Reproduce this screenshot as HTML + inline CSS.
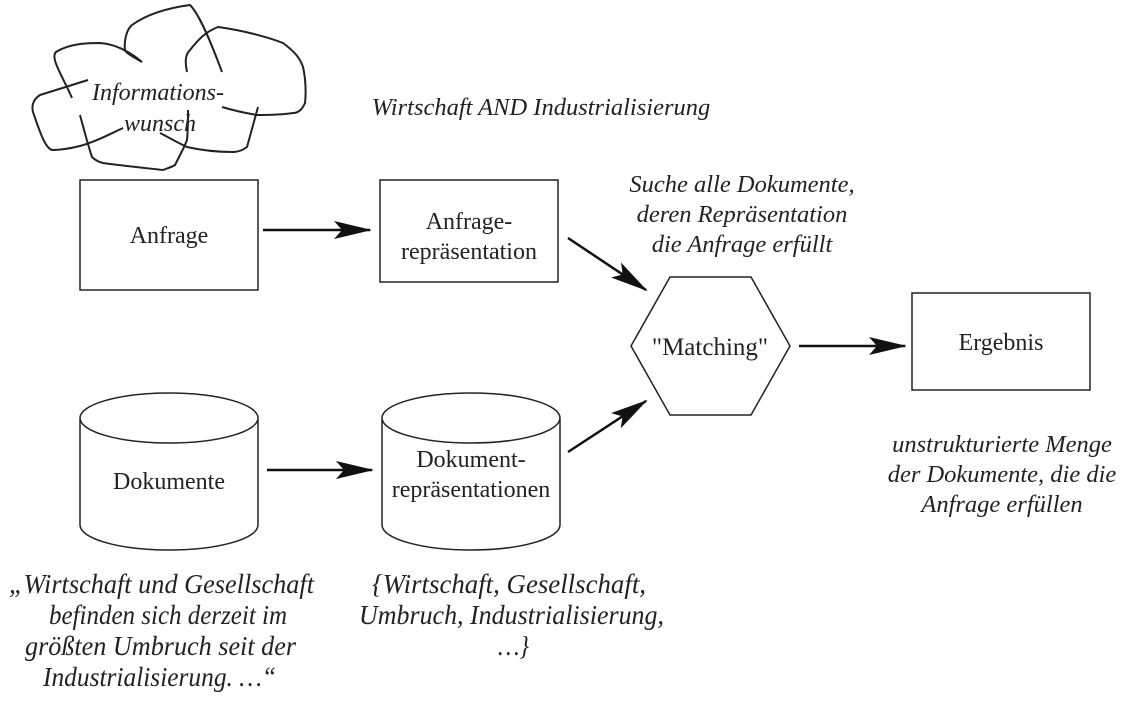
<!DOCTYPE html>
<html><head><meta charset="utf-8"><style>
body{margin:0;background:#fff}
svg{display:block}
text{font-family:"Liberation Serif",serif;fill:#222}
.i{font-style:italic}
</style></head><body>
<svg width="1131" height="711" viewBox="0 0 1131 711">
<defs><marker id="a" markerWidth="40" markerHeight="20" refX="36" refY="10" orient="auto" markerUnits="userSpaceOnUse"><path d="M0,1 L38,10 L0,19 L8,10 Z" fill="#111"/></marker></defs>
<g fill="none" stroke="#222" stroke-width="2" stroke-linejoin="round">
<path d="M72,98 C62,75 50,58 56,52 C70,43 90,43 100,43 C115,44 130,52 142,62"/>
<path d="M88,80 L40,95 C32,100 31,108 34,115 C40,132 45,148 52,150 C62,150 72,148 80,146 C95,142 110,134 123,128"/>
<path d="M142,62 C130,55 125,52 125,50 C124,42 126,30 132,25 C150,12 175,7 190,5 C200,15 212,45 222,72"/>
<path d="M187,72 C185,62 185,55 190,50 C198,40 205,32 218,27 C240,30 265,36 283,43 C295,52 300,58 303,67 C306,80 306,95 305,103 C302,110 298,113 293,113 C280,115 268,115 257,115 C245,113 232,110 222,107"/>
<path d="M258,107 L247,147 C243,150 238,152 233,152 C215,152 200,150 187,147 C178,143 168,137 160,133"/>
<path d="M80,115 C84,130 88,145 92,157 C95,160 99,162 103,163 C125,166 145,168 163,170 C168,168 172,167 175,165 C180,155 184,148 187,140 C188,130 188,120 188,110"/>
</g>
<text x="158" y="100" font-size="24" text-anchor="middle" class="i">Informations-</text>
<text x="160" y="131" font-size="24" text-anchor="middle" class="i">wunsch</text>
<text x="541" y="115" font-size="24.5" text-anchor="middle" class="i">Wirtschaft AND Industrialisierung</text>
<text x="742" y="192" font-size="24.5" text-anchor="middle" class="i">Suche alle Dokumente,</text>
<text x="742" y="222" font-size="24.5" text-anchor="middle" class="i">deren Repräsentation</text>
<text x="742" y="252" font-size="24.5" text-anchor="middle" class="i">die Anfrage erfüllt</text>
<g fill="#fff" stroke="#222" stroke-width="1.5">
<rect x="80" y="180" width="178" height="110"/>
<rect x="380" y="180" width="178" height="102"/>
<rect x="912" y="293" width="178" height="97"/>
<polygon points="631,346 670,277 751,277 790,346 751,415 670,415"/>
<path d="M80,418 L80,525 A89,25 0 0 0 258,525 L258,418 A89,25 0 0 0 80,418 A89,25 0 0 0 258,418"/>
<path d="M382,418 L382,525 A89,25 0 0 0 560,525 L560,418 A89,25 0 0 0 382,418 A89,25 0 0 0 560,418"/>
</g>
<g stroke="#111" stroke-width="2.5" marker-end="url(#a)">
<line x1="263" y1="230" x2="370" y2="230"/>
<line x1="267" y1="470" x2="372" y2="470"/>
<line x1="568" y1="238" x2="646" y2="290"/>
<line x1="568" y1="452" x2="646" y2="401"/>
<line x1="799" y1="346" x2="905" y2="346"/>
</g>
<text x="169" y="243" font-size="24" text-anchor="middle">Anfrage</text>
<text x="469" y="229" font-size="24" text-anchor="middle">Anfrage-</text>
<text x="469" y="259" font-size="24" text-anchor="middle">repräsentation</text>
<text x="710" y="355" font-size="25" text-anchor="middle">"Matching"</text>
<text x="1001" y="350" font-size="24" text-anchor="middle">Ergebnis</text>
<text x="169" y="489" font-size="24" text-anchor="middle">Dokumente</text>
<text x="471" y="467" font-size="24" text-anchor="middle">Dokument-</text>
<text x="471" y="497" font-size="24" text-anchor="middle">repräsentationen</text>
<text x="1002" y="452" font-size="24.5" text-anchor="middle" class="i">unstrukturierte Menge</text>
<text x="1002" y="482" font-size="24.5" text-anchor="middle" class="i">der Dokumente, die die</text>
<text x="1002" y="512" font-size="24.5" text-anchor="middle" class="i">Anfrage erfüllen</text>
<g font-size="27" class="i">
<text x="9" y="593" textLength="305" lengthAdjust="spacingAndGlyphs" class="i">„Wirtschaft und Gesellschaft</text>
<text x="49" y="624" textLength="238" lengthAdjust="spacingAndGlyphs" class="i">befinden sich derzeit im</text>
<text x="25" y="655" textLength="271" lengthAdjust="spacingAndGlyphs" class="i">größten Umbruch seit der</text>
<text x="43" y="686" textLength="233" lengthAdjust="spacingAndGlyphs" class="i">Industrialisierung. …“</text>
<text x="372" y="593" textLength="274" lengthAdjust="spacingAndGlyphs" class="i">{Wirtschaft, Gesellschaft,</text>
<text x="359" y="624" textLength="305" lengthAdjust="spacingAndGlyphs" class="i">Umbruch, Industrialisierung,</text>
<text x="498" y="655" textLength="31" lengthAdjust="spacingAndGlyphs" class="i">…}</text>
</g>
</svg>
</body></html>
